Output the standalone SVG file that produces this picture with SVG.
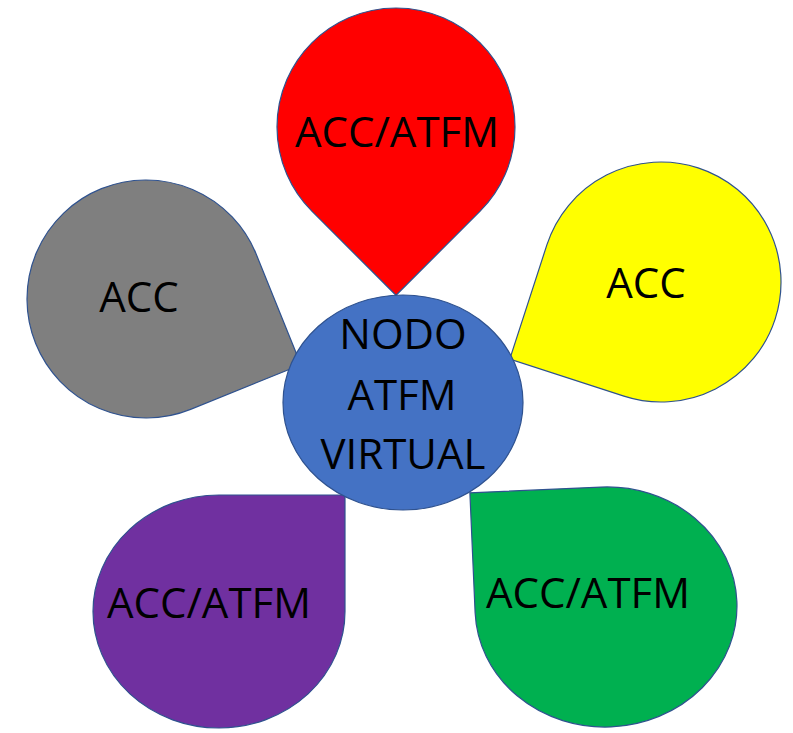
<svg xmlns="http://www.w3.org/2000/svg" width="793" height="733" viewBox="0 0 793 733">
  <style>
    .petal { stroke: #2F528F; stroke-width: 1.2; }
    .lbl { font-family: "Open Sans", "Noto Sans", "Liberation Sans", sans-serif; font-size: 42px; fill: #000000; text-anchor: middle; }
  </style>
  <rect width="793" height="733" fill="#FFFFFF"/>
  <g id="petal-red">
    <path class="petal" fill="#FF0000" transform="translate(396,127) rotate(135)" d="M -119,0 A 119 119 0 0 1 0,-119 L 119,-119 L 119,0 A 119 119 0 0 1 0,119 A 119 119 0 0 1 -119,0 Z"/>
    <text class="lbl" x="397" y="147">ACC/ATFM</text>
  </g>
  <g id="petal-gray">
    <path class="petal" fill="#7F7F7F" transform="translate(146,299) rotate(68)" d="M -119,0 A 119 119 0 0 1 0,-119 L 119,-119 L 119,0 A 119 119 0 0 1 0,119 A 119 119 0 0 1 -119,0 Z"/>
    <text class="lbl" x="139" y="312">ACC</text>
  </g>
  <g id="petal-yellow">
    <path class="petal" fill="#FFFF00" transform="translate(661,282) rotate(198)" d="M -120,0 A 120 120 0 0 1 0,-120 L 120,-120 L 120,0 A 120 120 0 0 1 0,120 A 120 120 0 0 1 -120,0 Z"/>
    <text class="lbl" x="646" y="298">ACC</text>
  </g>
  <g id="petal-purple">
    <path class="petal" fill="#7030A0" transform="translate(219,611.5)" d="M -126,0 A 126 116.5 0 0 1 0,-116.5 L 126,-116.5 L 126,0 A 126 116.5 0 0 1 0,116.5 A 126 116.5 0 0 1 -126,0 Z"/>
    <text class="lbl" x="209" y="618">ACC/ATFM</text>
  </g>
  <g id="petal-green">
    <path class="petal" fill="#00B050" transform="translate(606,607) rotate(-2.5)" d="M -131,0 L -131,-120 L 0,-120 A 131 120 0 0 1 131,0 A 131 120 0 0 1 0,120 A 131 120 0 0 1 -131,0 Z"/>
    <text class="lbl" x="588" y="608">ACC/ATFM</text>
  </g>
  <g id="center-node">
    <ellipse class="petal" fill="#4472C4" cx="403" cy="402.5" rx="120" ry="107.5"/>
    <text class="lbl" x="403" y="349">NODO</text>
    <text class="lbl" x="402" y="410">ATFM</text>
    <text class="lbl" x="403" y="469">VIRTUAL</text>
  </g>
</svg>
